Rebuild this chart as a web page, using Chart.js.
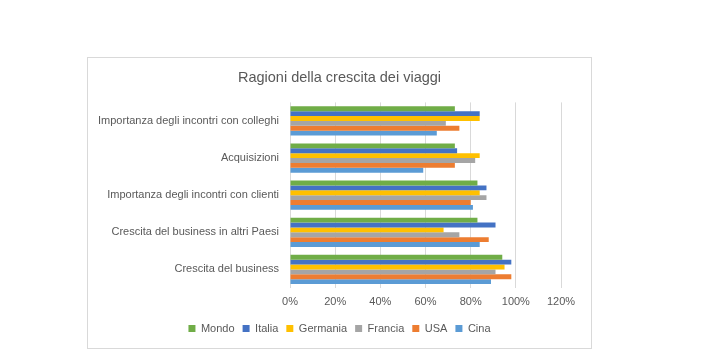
<!DOCTYPE html>
<html>
<head>
<meta charset="utf-8">
<script src="https://cdn.jsdelivr.net/npm/chart.js@4.4.0/dist/chart.umd.min.js"></script>
<style>
    html, body { margin: 0; padding: 0; background: #fff; }
    #box {
        position: absolute; left: 87px; top: 57px;
        width: 503px; height: 290px;
        border: 1px solid #d9d9d9;
    }
    #box canvas { display: block; }
</style>
</head>
<body>
<div id="box"><canvas id="chart" width="503" height="290"></canvas></div>
<script>
// categories, top to bottom
var categories = [
    'Importanza degli incontri con colleghi',
    'Acquisizioni',
    'Importanza degli incontri con clienti',
    'Crescita del business in altri Paesi',
    'Crescita del business'
];

// values in %
var mondo    = [73, 73, 83, 83, 94];
var italia   = [84, 74, 87, 91, 98];
var germania = [84, 84, 84, 68, 95];
var francia  = [69, 82, 87, 75, 91];
var usa      = [75, 73, 80, 88, 98];
var cina     = [65, 59, 81, 84, 89];

var seriesNames = ['Mondo', 'Italia', 'Germania', 'Francia', 'USA', 'Cina'];
var seriesColors = ['#70AD47', '#4472C4', '#FFC000', '#A5A5A5', '#ED7D31', '#5B9BD5'];
var seriesValues = [mondo, italia, germania, francia, usa, cina];

var xTicks = [0, 20, 40, 60, 80, 100, 120];

var textColor = '#595959';
var fontFamily = '"Liberation Sans", Arial, sans-serif';

function prepareChart()
{
    var datasets = [];
    for (var i = 0; i < seriesNames.length; i++) {
        datasets.push({
            label: seriesNames[i],
            data: seriesValues[i],
            backgroundColor: seriesColors[i],
            borderWidth: 0,
            barPercentage: 1.0,
            categoryPercentage: 0.79
        });
    }

    var ctx = document.getElementById('chart').getContext('2d');
    var chart = new Chart(ctx, {
        type: 'bar',
        data: {
            labels: categories,
            datasets: datasets
        },
        options: {
            indexAxis: 'y',
            responsive: false,
            animation: false,
            layout: {
                padding: { left: 0, right: 0, top: 0, bottom: 4 }
            },
            scales: {
                x: {
                    min: 0,
                    max: 120,
                    afterBuildTicks: function (axis) {
                        axis.ticks = xTicks.map(function (v) { return { value: v }; });
                    },
                    afterFit: function (axis) { axis.height = 27; },
                    border: { display: false },
                    grid: { color: '#d9d9d9', drawTicks: false },
                    ticks: {
                        color: textColor,
                        font: { family: fontFamily, size: 11 },
                        padding: 7,
                        callback: function (v) { return v + '%'; }
                    }
                },
                y: {
                    afterFit: function (axis) { axis.width = 202; },
                    border: { display: false },
                    grid: { display: false, drawTicks: false },
                    ticks: {
                        color: textColor,
                        font: { family: fontFamily, size: 11 },
                        padding: 11
                    }
                },
                // empty right-hand space so title and legend stay centred on the box
                yRight: {
                    type: 'category',
                    position: 'right',
                    afterFit: function (axis) { axis.width = 30; },
                    border: { display: false },
                    grid: { display: false, drawTicks: false },
                    ticks: { display: false }
                }
            },
            plugins: {
                title: {
                    display: true,
                    text: 'Ragioni della crescita dei viaggi',
                    color: textColor,
                    font: { family: fontFamily, size: 14.5, weight: 'normal' },
                    padding: { top: 11, bottom: 16 }
                },
                legend: {
                    position: 'bottom',
                    labels: {
                        color: textColor,
                        font: { family: fontFamily, size: 11 },
                        boxWidth: 7,
                        boxHeight: 7,
                        padding: 8
                    }
                },
                tooltip: { enabled: false }
            }
        }
    });
}

prepareChart();
</script>
</body>
</html>
